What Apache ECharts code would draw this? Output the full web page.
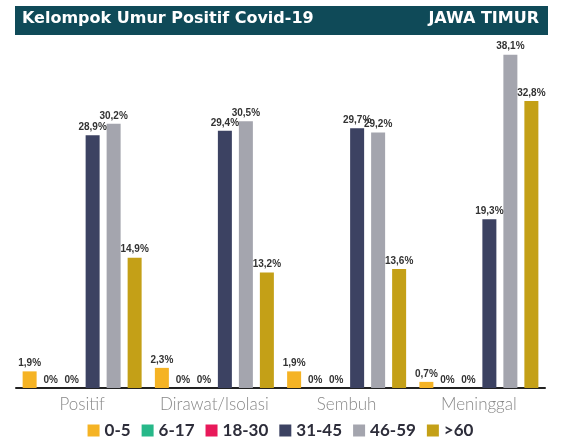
<!DOCTYPE html>
<html>
<head>
<meta charset="utf-8">
<script src="https://cdn.jsdelivr.net/npm/echarts@6/dist/echarts.min.js"></script>
<style>
  html, body { margin: 0; padding: 0; background: #fff; }
  #chart { width: 561px; height: 443px; }
</style>
</head>
<body>
<div id="chart"></div>
<script>
const categories = ['Positif', 'Dirawat/Isolasi', 'Sembuh', 'Meninggal'];
const groups = ['0-5', '6-17', '18-30', '31-45', '46-59', '>60'];
const age0to5 = [1.9, 2.3, 1.9, 0.7];
const age6to17 = [0, 0, 0, 0];
const age18to30 = [0, 0, 0, 0];
const age31to45 = [28.9, 29.4, 29.7, 19.3];
const age46to59 = [30.2, 30.5, 29.2, 38.1];
const age60plus = [14.9, 13.2, 13.6, 32.8];

const values = [age0to5, age6to17, age18to30, age31to45, age46to59, age60plus];
const colors = ['#f5b324', '#27b889', '#e8195a', '#3c4262', '#a4a5ae', '#c4a017'];

const chart = echarts.init(document.getElementById('chart'));

const option = {
  backgroundColor: '#fff',
  color: colors,
  graphic: [
    {
      type: 'rect',
      shape: { x: 15, y: 6, width: 533, height: 29 },
      style: { fill: '#0f4a58' }
    },
    {
      type: 'text',
      left: 22, top: 11,
      style: { text: 'Kelompok Umur Positif Covid-19', fill: '#fff', font: 'bold 16px "DejaVu Sans"' }
    },
    {
      type: 'text',
      right: 22, top: 11,
      style: { text: 'JAWA TIMUR', fill: '#fff', font: 'bold 16px "DejaVu Sans"' }
    }
  ],
  legend: {
    bottom: -1,
    left: 'center',
    itemWidth: 12,
    itemHeight: 12,
    itemGap: 11,
    icon: 'rect',
    textStyle: { fontSize: 17, fontWeight: 'bold', color: '#2d2d3a', fontFamily: 'Lato' },
    data: groups
  },
  grid: { left: 16, right: 16, top: 38, bottom: 55 },
  xAxis: {
    type: 'category',
    data: categories,
    axisLine: { lineStyle: { color: '#222', width: 2 } },
    axisTick: { show: false },
    axisLabel: { interval: 0, color: '#888', fontSize: 17, fontFamily: 'Lato', fontWeight: 300, margin: 8 }
  },
  yAxis: {
    type: 'value',
    min: 0,
    max: 40,
    show: false,
    splitLine: { show: false }
  },
  series: groups.map((name, i) => ({
    name,
    type: 'bar',
    data: values[i],
    barWidth: 14,
    barGap: '50%',
    label: {
      show: true,
      position: 'top',
      distance: 3,
      fontSize: 10,
      fontWeight: 'bold',
      color: '#333',
      formatter: p => String(p.value).replace('.', ',') + '%'
    }
  }))
};

chart.setOption(option);
</script>
</body>
</html>
